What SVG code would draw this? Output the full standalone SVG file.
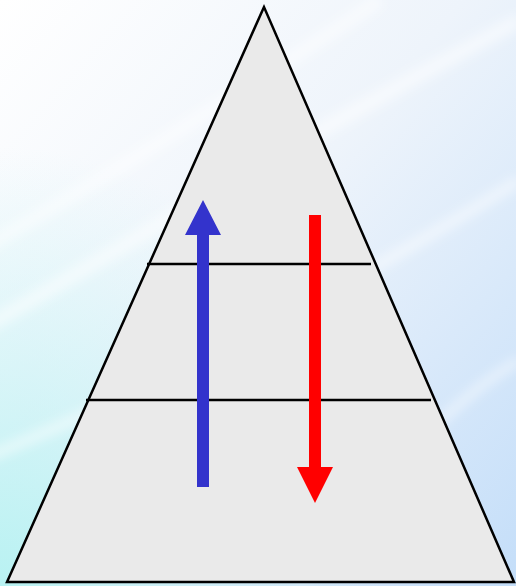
<svg xmlns="http://www.w3.org/2000/svg" width="516" height="586" viewBox="0 0 516 586">
<defs>
<linearGradient id="bg" x1="0" y1="0" x2="1" y2="1">
<stop offset="0" stop-color="#ffffff"/>
<stop offset="0.45" stop-color="#eef4fb"/>
<stop offset="1" stop-color="#c4def9"/>
</linearGradient>
<radialGradient id="cyan" cx="0" cy="1" r="0.75">
<stop offset="0" stop-color="#b8f2f2" stop-opacity="1"/>
<stop offset="1" stop-color="#c8f4f6" stop-opacity="0"/>
</radialGradient>
<filter id="blur" x="-20%" y="-20%" width="140%" height="140%"><feGaussianBlur stdDeviation="6"/></filter>
<style>
.tri{fill:#eaeaea;stroke:#000;stroke-width:2.5;stroke-linejoin:miter}
.lvl{stroke:#000;stroke-width:2.5;fill:none}
.streak{fill:none;stroke:#fff;stroke-opacity:0.55;filter:url(#blur)}
</style>
</defs>
<g id="background">
<rect width="516" height="586" fill="url(#bg)"/>
<rect width="516" height="586" fill="url(#cyan)"/>
<path class="streak" stroke-width="14" d="M-20 330 C120 250 260 160 520 20"/>
<path class="streak" stroke-width="10" d="M-20 460 C150 390 330 300 520 180"/>
<path class="streak" stroke-width="8" d="M300 580 C380 480 450 400 520 360"/>
<path class="streak" stroke-width="12" d="M-20 250 C100 180 200 120 380 0"/>
</g>
<g id="pyramid">
<polygon class="tri" points="264,7 7,582 514,582"/>
</g>
<g id="levels">
<line class="lvl" x1="147" y1="264" x2="371" y2="264"/>
<line class="lvl" x1="86" y1="400" x2="431" y2="400"/>
</g>
<g id="connectors">
<polygon id="arrow-up" fill="#3333cc" points="197,487 209,487 209,235 221,235 203,200 185,235 197,235"/>
<polygon id="arrow-down" fill="#ff0000" points="309,215 321,215 321,467 333,467 315,503 297,467 309,467"/>
</g>
</svg>
